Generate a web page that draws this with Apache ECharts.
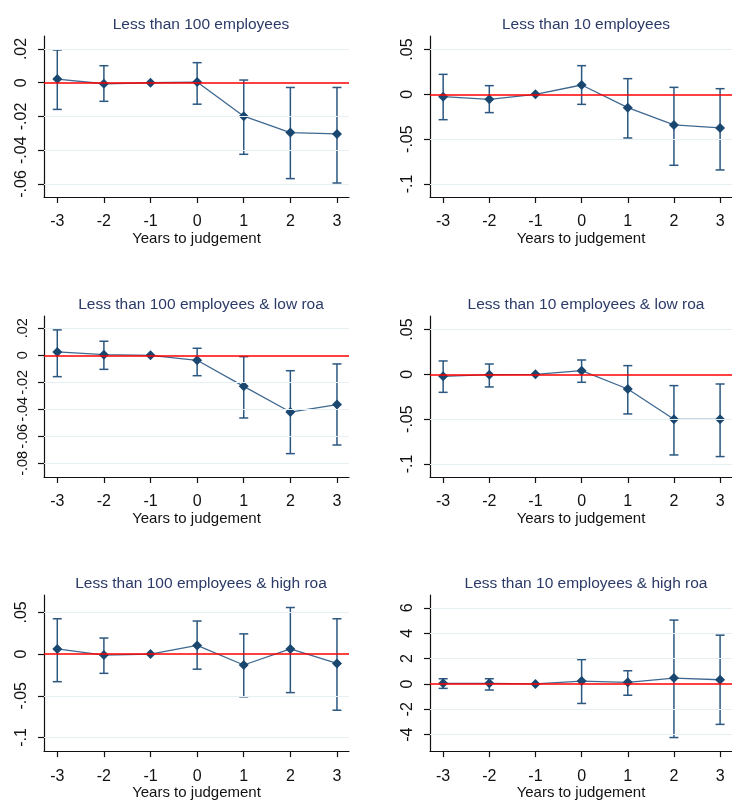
<!DOCTYPE html>
<html>
<head>
<meta charset="utf-8">
<script src="https://cdn.jsdelivr.net/npm/echarts@6/dist/echarts.min.js"></script>
<style>
  html, body { margin: 0; padding: 0; background: #fff; }
  #chart { width: 732px; height: 801px; }
</style>
</head>
<body>
<div id="chart"></div>
<script>
// Event-study coefficients with 95% confidence intervals, by firm group
const years = [-3, -2, -1, 0, 1, 2, 3];
const xTicks = [-3, -2, -1, 0, 1, 2, 3];

const titles = [
  'Less than 100 employees',
  'Less than 10 employees',
  'Less than 100 employees & low roa',
  'Less than 10 employees & low roa',
  'Less than 100 employees & high roa',
  'Less than 10 employees & high roa'
];

// Less than 100 employees
const est100 = [0.0022, -0.0006, 0, 0.0004, -0.0198, -0.0295, -0.0303];
const hi100  = [0.0194, 0.0101, null, 0.0119, 0.0016, -0.0028, -0.0028];
const lo100  = [-0.0158, -0.0110, null, -0.0127, -0.0424, -0.0568, -0.0594];

// Less than 10 employees
const est10 = [-0.0026, -0.0056, 0, 0.0104, -0.0149, -0.0342, -0.0375];
const hi10  = [0.0223, 0.0097, null, 0.0320, 0.0175, 0.0078, 0.0063];
const lo10  = [-0.0283, -0.0204, null, -0.0112, -0.0487, -0.0792, -0.0844];

// Less than 100 employees & low roa
const est100Low = [0.0025, 0.0005, 0, -0.0037, -0.0230, -0.0420, -0.0365];
const hi100Low  = [0.0188, 0.0104, null, 0.0052, -0.0010, -0.0114, -0.0064];
const lo100Low  = [-0.0158, -0.0104, null, -0.0151, -0.0464, -0.0728, -0.0664];

// Less than 10 employees & low roa
const est10Low = [-0.0022, -0.0004, 0, 0.0041, -0.0164, -0.0502, -0.0502];
const hi10Low  = [0.0149, 0.0115, null, 0.0160, 0.0097, -0.0126, -0.0108];
const lo10Low  = [-0.0201, -0.0141, null, -0.0089, -0.0442, -0.0900, -0.0918];

// Less than 100 employees & high roa
const est100High = [0.0062, -0.0012, 0, 0.0104, -0.0131, 0.0062, -0.0112];
const hi100High  = [0.0423, 0.0192, null, 0.0396, 0.0242, 0.0558, 0.0423];
const lo100High  = [-0.0331, -0.0231, null, -0.0181, -0.0512, -0.0462, -0.0673];

// Less than 10 employees & high roa
const est10High = [0.05, 0.05, 0, 0.23, 0.13, 0.46, 0.33];
const hi10High  = [0.41, 0.41, null, 1.92, 1.04, 5.04, 3.85];
const lo10High  = [-0.35, -0.48, null, -1.54, -0.89, -4.23, -3.19];

// y-axis tick values and their labels
const yTicks100 = [0.02, 0, -0.02, -0.04, -0.06];
const yLabels100 = ['.02', '0', '-.02', '-.04', '-.06'];
const yTicks10 = [0.05, 0, -0.05, -0.1];
const yLabels10 = ['.05', '0', '-.05', '-.1'];
const yTicks100Low = [0.02, 0, -0.02, -0.04, -0.06, -0.08];
const yLabels100Low = ['.02', '0', '-.02', '-.04', '-.06', '-.08'];
const yTicksHigh = [0.05, 0, -0.05, -0.1];
const yLabelsHigh = ['.05', '0', '-.05', '-.1'];
const yTicks10High = [6, 4, 2, 0, -2, -4];
const yLabels10High = ['6', '4', '2', '0', '-2', '-4'];

// axis extents
const yRanges = [
  [-0.0677, 0.0277],
  [-0.1146, 0.0651],
  [-0.0901, 0.0291],
  [-0.1146, 0.0651],
  [-0.1163, 0.0708],
  [-5.30, 7.02]
];
const xRange = [-3.285, 3.258];

const panels = [
  { est: est100, hi: hi100, lo: lo100, ticks: yTicks100, labels: yLabels100 },
  { est: est10, hi: hi10, lo: lo10, ticks: yTicks10, labels: yLabels10 },
  { est: est100Low, hi: hi100Low, lo: lo100Low, ticks: yTicks100Low, labels: yLabels100Low },
  { est: est10Low, hi: hi10Low, lo: lo10Low, ticks: yTicks10, labels: yLabels10 },
  { est: est100High, hi: hi100High, lo: lo100High, ticks: yTicksHigh, labels: yLabelsHigh },
  { est: est10High, hi: hi10High, lo: lo10High, ticks: yTicks10High, labels: yLabels10High }
];

// layout of the 2 x 3 panel grid
const colLeft = [44, 430];
const colWidth = [305, 304];
const rowTop = [36, 316, 595];
const rowHeight = [161, 161, 162];
const titleTop = [12, 292, 571];
const titleCenter = [196, 581];
// the densely ticked axis gets slightly smaller labels so all six fit
const yLabelSize = [16, 16, 14.5, 16, 16, 16];

const FONT = '"Liberation Sans", Arial, sans-serif';
const NAVY = '#1a476f';
const LINE = '#3f6890';
const BAR = '#2b5780';

const grids = [], xAxes = [], yAxes = [], series = [], titleList = [];

panels.forEach((p, i) => {
  const col = i % 2, row = Math.floor(i / 2);
  grids.push({
    left: colLeft[col], top: rowTop[row],
    width: colWidth[col], height: rowHeight[row],
    containLabel: false
  });
  titleList.push({
    text: titles[i],
    left: titleCenter[col], top: titleTop[row],
    textAlign: 'center',
    textStyle: { fontFamily: FONT, fontSize: 15.5, fontWeight: 'normal', color: '#2b3a67' }
  });
  xAxes.push({
    type: 'value', gridIndex: i,
    min: xRange[0], max: xRange[1],
    name: 'Years to judgement', nameLocation: 'middle', nameGap: 32,
    nameTextStyle: { fontFamily: FONT, fontSize: 15, color: '#111' },
    axisLine: { show: true, onZero: false, lineStyle: { color: '#111', width: 1.2 } },
    axisTick: { show: true, length: 6, customValues: xTicks, lineStyle: { color: '#111', width: 1.2 } },
    axisLabel: { customValues: xTicks, margin: 17, fontFamily: FONT, fontSize: 16, color: '#111',
                 showMinLabel: true, showMaxLabel: true, hideOverlap: false,
                 formatter: v => String(v) },
    splitLine: { show: false }
  });
  const labelOf = {};
  p.ticks.forEach((t, k) => { labelOf[t.toFixed(4)] = p.labels[k]; });
  yAxes.push({
    type: 'value', gridIndex: i,
    min: yRanges[i][0], max: yRanges[i][1],
    axisLine: { show: true, onZero: false, lineStyle: { color: '#111', width: 1.2 } },
    axisTick: { show: true, length: 6, customValues: p.ticks, lineStyle: { color: '#111', width: 1.2 } },
    axisLabel: { customValues: p.ticks, rotate: 90, margin: 14, fontFamily: FONT, fontSize: yLabelSize[i], color: '#111',
                 showMinLabel: true, showMaxLabel: true, hideOverlap: false,
                 formatter: v => labelOf[Number(v).toFixed(4)] ?? '' },
    splitLine: { show: false }
  });

  // grid lines at each tick, and the red reference line at zero
  series.push({
    type: 'line', xAxisIndex: i, yAxisIndex: i, data: [], z: 1, silent: true,
    markLine: {
      silent: true, symbol: ['none', 'none'], animation: false,
      label: { show: false },
      data: p.ticks.filter(t => t !== 0).map(t => ({ yAxis: t, lineStyle: { color: '#e6eff2', width: 1, type: 'solid' } }))
        .concat([{ yAxis: 0, lineStyle: { color: '#ff0000', width: 1.5, type: 'solid' } }])
    }
  });

  // confidence-interval bars with caps
  series.push({
    type: 'custom', xAxisIndex: i, yAxisIndex: i, z: 3, silent: true,
    data: years.map((x, k) => [x, p.lo[k], p.hi[k]]).filter(d => d[1] !== null),
    renderItem: (params, api) => {
      const x = api.value(0);
      const top = api.coord([x, api.value(2)]);
      const bot = api.coord([x, api.value(1)]);
      const w = 4.5;
      const st = { stroke: BAR, lineWidth: 1.5 };
      return {
        type: 'group',
        children: [
          { type: 'line', shape: { x1: top[0], y1: top[1], x2: bot[0], y2: bot[1] }, style: st },
          { type: 'line', shape: { x1: top[0] - w, y1: top[1], x2: top[0] + w, y2: top[1] }, style: st },
          { type: 'line', shape: { x1: bot[0] - w, y1: bot[1], x2: bot[0] + w, y2: bot[1] }, style: st }
        ]
      };
    }
  });

  // point estimates joined by a line
  series.push({
    type: 'line', xAxisIndex: i, yAxisIndex: i, z: 4, silent: true,
    data: years.map((x, k) => [x, p.est[k]]),
    symbol: 'diamond', symbolSize: 10, showSymbol: true,
    itemStyle: { color: NAVY },
    lineStyle: { color: LINE, width: 1.3 }
  });
});

const chart = echarts.init(document.getElementById('chart'), null, { renderer: 'canvas' });
chart.setOption({
  backgroundColor: '#ffffff',
  animation: false,
  title: titleList,
  grid: grids,
  xAxis: xAxes,
  yAxis: yAxes,
  series: series
});
</script>
</body>
</html>
